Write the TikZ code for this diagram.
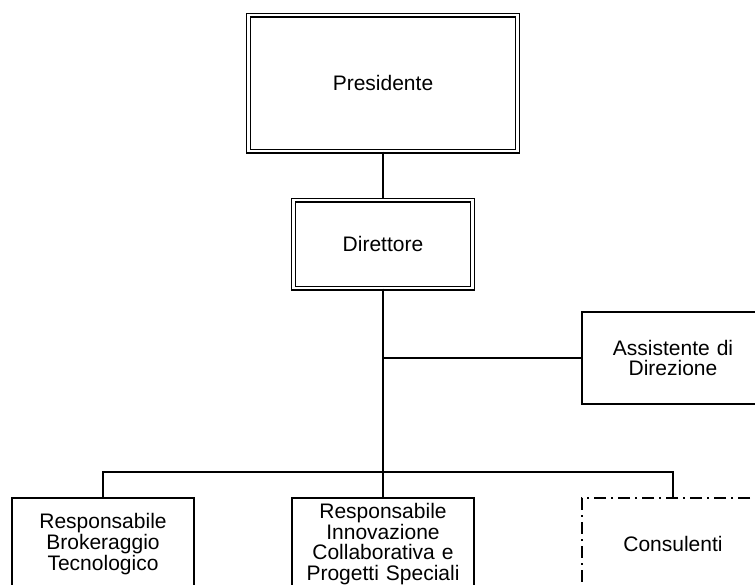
\documentclass[tikz,border=0pt]{standalone}
\usepackage{fontspec}
\setmainfont{Liberation Sans}
\begin{document}
\begin{tikzpicture}[x=1pt,y=-1pt,
  every node/.style={font=\fontsize{21}{20.8}\selectfont, align=center, inner sep=0pt},
  unit/.style={draw, line width=1.3pt, minimum width=182pt, minimum height=92pt, text width=180pt},
  dunit/.style={draw, line width=1.2pt, double=white, double distance=2.6pt},
  extunit/.style={unit, line width=2.4pt, dash pattern=on 12pt off 5pt on 2pt off 5pt},
  link/.style={line width=1.4pt},
  mainlink/.style={line width=2.2pt}]
\useasboundingbox (0,0) rectangle (755,584);
\clip (0,0) rectangle (755,584);

% top management
\node[dunit, minimum width=269pt, minimum height=136pt] (pres) at (383,83) {Presidente};
\node[dunit, minimum width=179pt, minimum height=88pt] (dir) at (383,244) {Direttore};

% staff unit
\node[unit] (asst) at (673,358) {Assistente di\\Direzione};

% line units
\node[unit] (brok) at (103,544) {Responsabile\\Brokeraggio\\Tecnologico};
\node[unit] (innov) at (383,544) {Responsabile\\Innovazione\\Collaborativa e\\Progetti Speciali};
\node[extunit] (cons) at (673,544) {Consulenti};

% junctions
\coordinate (jasst) at (383,358);
\coordinate (bus) at (383,472);

% connectors
\draw[link] (pres.south) -- (dir.north);
\draw[mainlink] (dir.south) -- (bus);
\draw[link] (jasst) -- (asst.west);
\draw[link] (brok.north) |- (bus) -| (cons.north);
\draw[link] (bus) -- (innov.north);
\end{tikzpicture}
\end{document}
